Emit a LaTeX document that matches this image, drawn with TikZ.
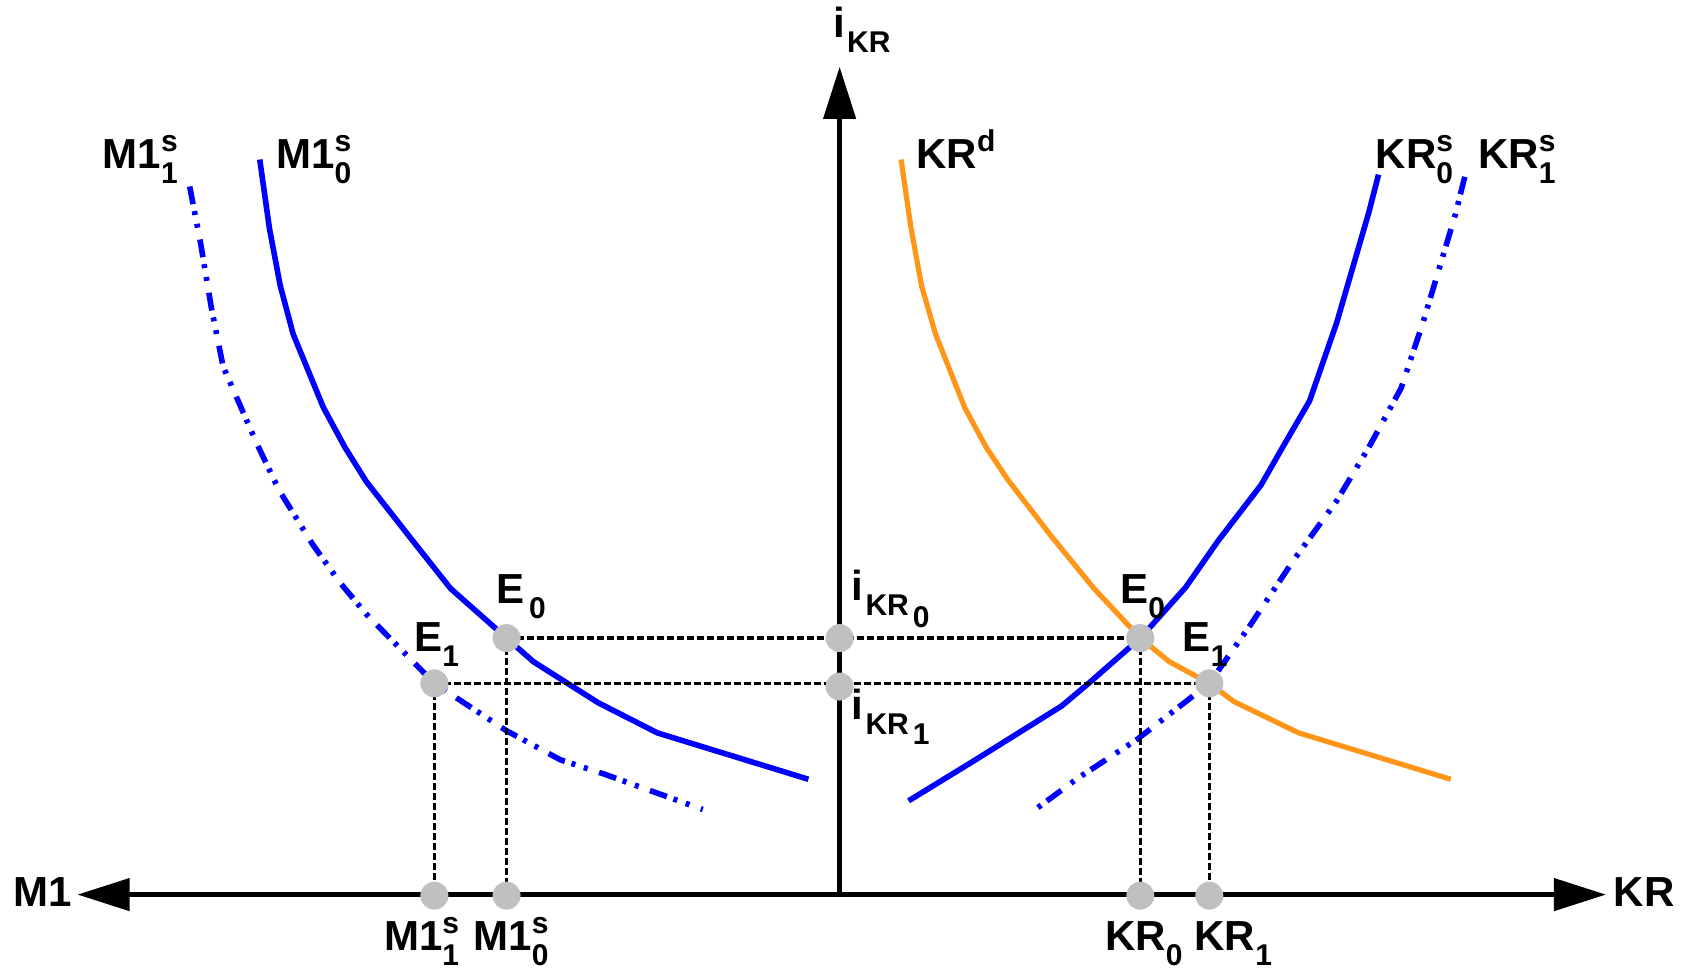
\documentclass[tikz,border=0pt]{standalone}
\usepackage{fontspec}
\setmainfont{Liberation Sans}
\usetikzlibrary{arrows.meta}

\definecolor{curveblue}{RGB}{0,0,255}
\definecolor{curveorange}{RGB}{255,150,25}
\definecolor{dotgray}{RGB}{192,192,192}

% Indici e apici
\newcommand\subfnt{\fontsize{15}{15}\selectfont}
\newcommand\lsub[1]{\raisebox{-7.5pt}{\subfnt #1}}
\newcommand\lsupsub[2]{\rlap{\raisebox{8.5pt}{\subfnt #1}}\raisebox{-7.5pt}{\subfnt #2}}

\tikzset{
  axis/.style={line width=2.2pt, black},
  tipbig/.tip={Triangle[length=26pt, width=16pt]},
  supply/.style={line width=2.8pt, curveblue, line join=round},
  shifted/.style={supply, dash pattern=on 9pt off 3.5pt on 2pt off 4.5pt on 2pt off 6pt},
  demand/.style={line width=2.6pt, curveorange, line join=round},
  guide/.style={line width=1.6pt, black, dash pattern=on 3.5pt off 1.5pt},
  eqpt/.style={circle, fill=dotgray, inner sep=0pt, minimum size=14pt},
  lab/.style={inner sep=0pt, anchor=base west, font=\fontsize{21}{25}\selectfont\bfseries},
}

\begin{document}
\begin{tikzpicture}[x=0.5389pt, y=-0.5389pt, line cap=butt]
  \useasboundingbox (0,0) rectangle (1568,902);

  % Assi
  \coordinate (O) at (779,830);
  \coordinate (ytip) at (779,62);
  \coordinate (xl) at (72,830);
  \coordinate (xr) at (1490,830);

  % Curve di offerta M1
  \draw[supply] plot coordinates {(241,148) (250,212) (260,265) (272,310) (300,378)
    (320,415) (340,447) (380,498) (418,546) (470,592) (495,614) (555,652) (610,680) (750,723)};
  \draw[shifted] plot coordinates {(176,173) (186,225) (196,285) (207,340) (238,411)
    (259,455) (290,505) (315,540) (340,570) (403,634) (470,678) (520,705) (560,718) (652,751)};

  % Domanda e offerta KR
  \draw[demand] plot coordinates {(836,148) (845,210) (855,265) (868,310) (895,378)
    (915,415) (935,445) (975,497) (1015,546) (1058,592) (1085,614) (1122,634) (1145,651)
    (1205,680) (1346,723)};
  \draw[supply] plot coordinates {(1279,162) (1270,197) (1240,300) (1215,372) (1190,415)
    (1170,450) (1130,502) (1100,545) (1058,592) (1010,634) (985,655) (905,705) (843,743)};
  \draw[shifted] plot coordinates {(1359,164) (1350,200) (1320,300) (1300,360) (1270,415)
    (1240,465) (1200,520) (1160,580) (1122,634) (1055,686) (1000,722) (962,750)};

  % Punti di equilibrio
  \coordinate (E0l) at (470,592);
  \coordinate (E1l) at (403,634);
  \coordinate (E0r) at (1058,592);
  \coordinate (E1r) at (1122,634);
  \coordinate (i0) at (779,592);
  \coordinate (i1) at (779,637);
  \coordinate (m1) at (403,831);
  \coordinate (m0) at (470,831);
  \coordinate (k0) at (1058,831);
  \coordinate (k1) at (1122,831);

  % Linee di riferimento
  \draw[guide] (E0l) -- (E0r);
  \draw[guide] (E1l) -- (E1r);
  \draw[guide] (E1l) -- (m1);
  \draw[guide] (E0l) -- (m0);
  \draw[guide] (E0r) -- (k0);
  \draw[guide] (E1r) -- (k1);

  \draw[axis, -tipbig] (O) -- (ytip);
  \draw[axis, tipbig-tipbig] (xl) -- (xr);

  \foreach \p in {E0l,E1l,E0r,E1r,i0,i1,m1,m0,k0,k1}
    \node[eqpt] at (\p) {};

  % Etichette
  \node[lab] (lyaxis) at (773,35) {i\hspace{1pt}\lsub{KR}};
  \node[lab] (lm1) at (12,841) {M1};
  \node[lab] (lkr) at (1497,841) {KR};
  \node[lab] (lm1s1) at (95,156) {M1\lsupsub{s}{1}};
  \node[lab] (lm1s0) at (256,156) {M1\lsupsub{s}{0}};
  \node[lab] (lkrd) at (850,156) {KR\raisebox{8.5pt}{\subfnt d}};
  \node[lab] (lkrs0) at (1276,156) {KR\lsupsub{s}{0}};
  \node[lab] (lkrs1) at (1371,156) {KR\lsupsub{s}{1}};
  \node[lab] (le0l) at (460,560) {E\lsub{\,0}};
  \node[lab] (le1l) at (384,604) {E\lsub{1}};
  \node[lab] (le0r) at (1039,560) {E\lsub{0}};
  \node[lab] (le1r) at (1097,604) {E\lsub{1}};
  \node[lab] (li0) at (790,557) {i\hspace{1pt}\lsub{KR\hspace{2pt}\raisebox{-6pt}{0}}};
  \node[lab] (li1) at (790,668) {i\hspace{1pt}\lsub{KR\hspace{2pt}\raisebox{-5pt}{1}}};
  \node[lab] (lbm1) at (356,882) {M1\lsupsub{s}{1}};
  \node[lab] (lbm0) at (439,882) {M1\lsupsub{s}{0}};
  \node[lab] (lbk0) at (1025,882) {KR\lsub{0}};
  \node[lab] (lbk1) at (1108,882) {KR\lsub{1}};
\end{tikzpicture}
\end{document}
